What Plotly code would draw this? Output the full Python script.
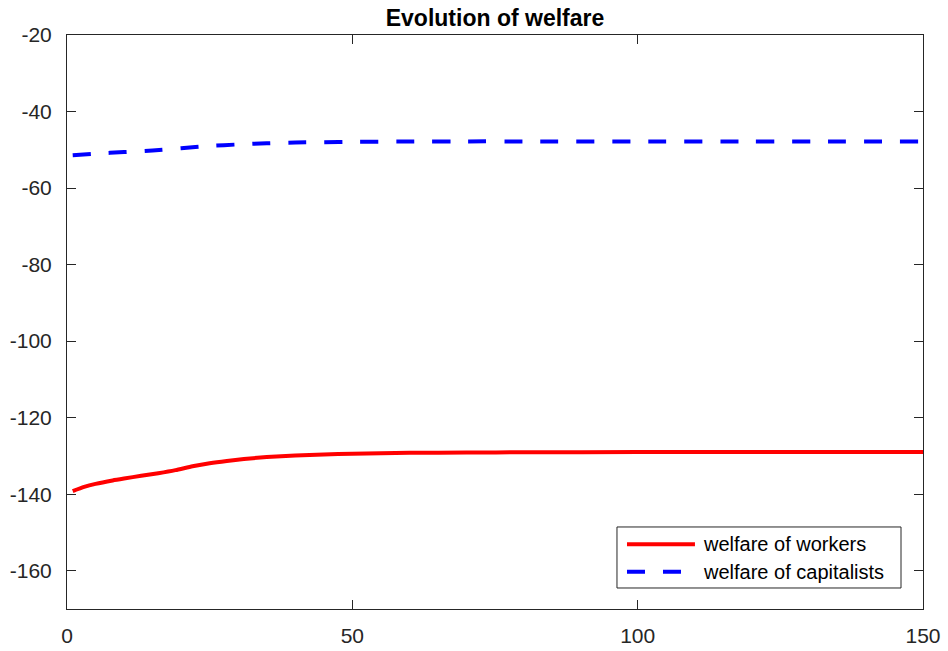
import plotly.graph_objects as go

# data
x_workers = [1, 3, 5, 8, 10, 13, 16, 19, 22, 25, 28, 31, 35, 40, 45, 50, 55, 60, 70, 80, 100, 120, 150]
y_workers = [-139.2, -138.1, -137.3, -136.4, -135.9, -135.2, -134.5, -133.7, -132.7, -131.9, -131.3, -130.8,
             -130.3, -129.9, -129.6, -129.4, -129.3, -129.2, -129.1, -129.05, -129.0, -129.0, -129.0]
x_capital = [1, 5, 10, 15, 20, 25, 30, 35, 40, 45, 50, 60, 70, 80, 100, 120, 150]
y_capital = [-51.4, -51.0, -50.6, -50.2, -49.6, -49.0, -48.6, -48.3, -48.1, -48.0, -47.9, -47.85, -47.8,
             -47.8, -47.8, -47.8, -47.8]

x_ticks = [0, 50, 100, 150]
x_labels = ["0", "50", "100", "150"]
y_ticks = [-160, -140, -120, -100, -80, -60, -40, -20]
y_labels = ["-160", "-140", "-120", "-100", "-80", "-60", "-40", "-20"]

series_names = ["welfare of workers", "welfare of capitalists"]
series_colors = ["#ff0000", "#0000ff"]
series_dash = ["solid", "18px,18px"]

FONT = "Liberation Sans, Arial, Helvetica, sans-serif"

fig = go.Figure()
fig.add_trace(go.Scatter(x=x_workers, y=y_workers, mode="lines", name=series_names[0], showlegend=False,
                         line=dict(color=series_colors[0], width=4, dash=series_dash[0],
                                   shape="spline", smoothing=0.6)))
fig.add_trace(go.Scatter(x=x_capital, y=y_capital, mode="lines", name=series_names[1], showlegend=False,
                         line=dict(color=series_colors[1], width=4, dash=series_dash[1],
                                   shape="spline", smoothing=0.6)))

axis_common = dict(showgrid=False, zeroline=False, showline=True, linecolor="#262626", linewidth=1,
                   mirror="ticks", ticks="inside", ticklen=9, tickcolor="#262626", tickwidth=1,
                   automargin=False,
                   tickfont=dict(family=FONT, size=21, color="#262626"))

# legend box drawn in paper coordinates (MATLAB-style legend)
shapes = [dict(type="rect", xref="paper", yref="paper", x0=0.6425, x1=0.9743, y0=0.0366, y1=0.1429,
               line=dict(color="#262626", width=1), fillcolor="white", layer="above")]
annotations = []
legend_rows_y = [0.1127, 0.065]
for name, color, dash, ly in zip(series_names, series_colors, series_dash, legend_rows_y):
    shapes.append(dict(type="line", xref="paper", yref="paper", x0=0.6542, x1=0.7336, y0=ly, y1=ly,
                       line=dict(color=color, width=4, dash=dash), layer="above"))
    annotations.append(dict(xref="paper", yref="paper", x=0.7410, y=ly, xanchor="left", yanchor="middle",
                            text=name, showarrow=False,
                            font=dict(family=FONT, size=20, color="black")))

fig.update_layout(
    width=948, height=651,
    margin=dict(l=67, r=25, t=35, b=42, autoexpand=False),
    paper_bgcolor="white", plot_bgcolor="white",
    title=dict(text="<b>Evolution of welfare</b>", x=495 / 948, xanchor="center",
               y=1 - 18 / 651, yanchor="middle", automargin=False,
               font=dict(family=FONT, size=23, color="black")),
    xaxis=dict(range=[0, 150], tickvals=x_ticks, ticktext=x_labels, ticklabelstandoff=8,
               ticklabeloverflow="allow", **axis_common),
    yaxis=dict(range=[-170, -20], tickvals=y_ticks, ticktext=y_labels, ticklabelstandoff=10, **axis_common),
    shapes=shapes,
    annotations=annotations,
    showlegend=False,
)

fig.write_html("out.html", config={"displayModeBar": False},
               post_script="document.body.style.margin='0';document.body.style.overflow='hidden';")
